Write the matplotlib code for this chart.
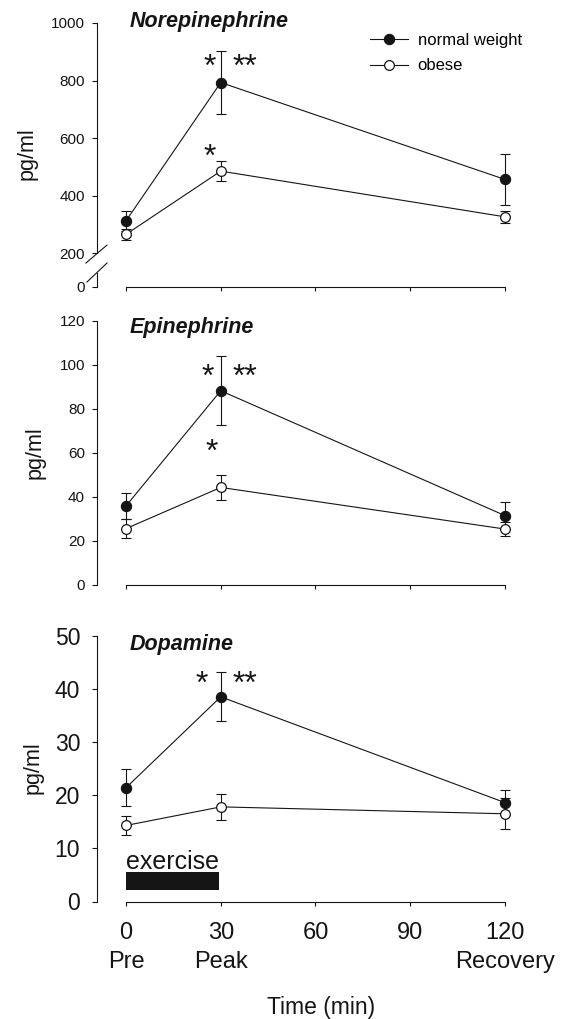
import numpy as np
import matplotlib
matplotlib.use('Agg')
import matplotlib.pyplot as plt
from matplotlib import transforms

plt.rcParams['font.family'] = ['Liberation Sans', 'DejaVu Sans']

# ---------------- data ----------------
time_min = [0, 30, 120]
xtick_values = [0, 30, 60, 90, 120]
xtick_labels = ['0\nPre', '30\nPeak', '60', '90', '120\nRecovery']

ne_normal = [312, 793, 456]
ne_normal_err = [34, 110, 90]
ne_obese = [265, 485, 326]
ne_obese_err = [20, 35, 22]

epi_normal = [35.9, 88.2, 31.5]
epi_normal_err = [6.0, 15.6, 6.0]
epi_obese = [25.6, 44.3, 25.4]
epi_obese_err = [4.4, 5.8, 3.0]

dop_normal = [21.4, 38.5, 18.6]
dop_normal_err = [3.5, 4.6, 2.3]
dop_obese = [14.3, 17.8, 16.5]
dop_obese_err = [1.8, 2.5, 2.9]

ne_yticks = [0, 200, 400, 600, 800, 1000]
epi_yticks = [0, 20, 40, 60, 80, 100, 120]
dop_yticks = [0, 10, 20, 30, 40, 50]

# significance marks (x in min, y in pg/ml, text)
ne_marks = [(26.6, 864, '*'), (37.7, 864, '**'), (26.6, 551, '*')]
epi_marks = [(26.0, 96.8, '*'), (37.7, 96.8, '**'), (27.1, 62.8, '*')]
dop_marks = [(24.0, 41.8, '*'), (37.7, 41.8, '**')]

exercise_start, exercise_end = 0, 29.5
exercise_bar_y = (2.2, 5.5)

series_labels = ['normal weight', 'obese']

# ---------------- figure ----------------
W, H = 565, 1019
fig = plt.figure(figsize=(W / 100, H / 100), dpi=100)
INK = '#151515'


def px_axes(left, top, right, bottom):
    return fig.add_axes([left / W, 1 - bottom / H, (right - left) / W, (bottom - top) / H])


XLIM = (-9.18, 120.95)
TITLE_FS = 15.5
STAR_FS = 23


def style_axes(ax, yticks, ytick_size, ypad):
    ax.set_xlim(*XLIM)
    for s in ('top', 'right'):
        ax.spines[s].set_visible(False)
    for s in ('left', 'bottom'):
        ax.spines[s].set_linewidth(0.8)
        ax.spines[s].set_color(INK)
    ax.spines['bottom'].set_bounds(0, 120)
    ax.set_xticks(xtick_values)
    ax.set_yticks(yticks)
    ax.tick_params(axis='y', direction='out', length=3.6, width=0.8, colors=INK,
                   labelsize=ytick_size, pad=ypad)
    ax.tick_params(axis='x', direction='out', length=3, width=0.8, colors=INK)


def draw_series(ax, normal, nerr, obese, oerr):
    ax.errorbar(time_min, normal, yerr=nerr, fmt='none', ecolor=INK, elinewidth=0.8,
                capsize=3.3, capthick=0.8, zorder=2, clip_on=False)
    ax.errorbar(time_min, obese, yerr=oerr, fmt='none', ecolor=INK, elinewidth=0.8,
                capsize=3.3, capthick=0.8, zorder=2, clip_on=False)
    h1, = ax.plot(time_min, normal, '-o', color=INK, lw=0.8, ms=7.4, mfc=INK, mec=INK,
                  mew=0.8, zorder=3, clip_on=False, label=series_labels[0])
    h2, = ax.plot(time_min, obese, '-o', color=INK, lw=0.8, ms=7.0, mfc='white', mec=INK,
                  mew=0.9, zorder=4, clip_on=False, label=series_labels[1])
    return h1, h2


def draw_marks(ax, marks):
    # place the visual centre of the asterisk glyph on the given point
    tr = transforms.offset_copy(ax.transData, fig=fig, x=0,
                                y=-0.44 * STAR_FS * 100 / 72, units='dots')
    for x, y, t in marks:
        ax.text(x, y, t, ha='center', va='baseline', fontsize=STAR_FS,
                color=INK, clip_on=False, transform=tr)


def draw_title(ax, y, text):
    ax.text(1.3, y, text, fontsize=TITLE_FS, fontweight='bold', fontstyle='italic',
            ha='left', va='center', color=INK, clip_on=False)


# ---- top: norepinephrine (broken axis) ----
ax1 = px_axes(97, 23, 508, 287)


def fwd(y):
    y = np.asarray(y, dtype=float)
    return np.where(y >= 200, y, 82 + 0.59 * y)


def inv(u):
    u = np.asarray(u, dtype=float)
    return np.where(u >= 200, u, (u - 82) / 0.59)


ax1.set_yscale('function', functions=(fwd, inv))
ax1.set_ylim(0, 1000)
style_axes(ax1, ne_yticks, 11, 5)
ax1.spines['left'].set_bounds(200, 1000)
ax1.set_xticklabels([])
h1, h2 = draw_series(ax1, ne_normal, ne_normal_err, ne_obese, ne_obese_err)
draw_marks(ax1, ne_marks)
blend = transforms.blended_transform_factory(ax1.transAxes, ax1.transData)
ax1.plot([0, 0], [0, 82], color=INK, lw=0.8, transform=blend, clip_on=False)
ax1.plot([-0.0268, 0.0243], [141.4, 227.8], color=INK, lw=0.8, transform=blend, clip_on=False)
ax1.plot([-0.0243, 0.0243], [29.5, 141.4], color=INK, lw=0.8, transform=blend, clip_on=False)
draw_title(ax1, 1005, 'Norepinephrine')
ax1.set_ylabel('pg/ml', fontsize=15.5, color=INK)
ax1.yaxis.set_label_coords(-0.144, 0.504)
ax1.legend(handles=[h1, h2], loc='upper left', bbox_to_anchor=(370 / W, 1 - 33 / H),
           bbox_transform=fig.transFigure, frameon=False, borderpad=0, borderaxespad=0,
           handlelength=2.3, handletextpad=0.55, labelspacing=0.62, fontsize=12)

# ---- middle: epinephrine ----
ax2 = px_axes(97, 320.7, 508, 585)
ax2.set_ylim(0, 120)
style_axes(ax2, epi_yticks, 11, 5)
ax2.spines['left'].set_bounds(0, 120)
ax2.set_xticklabels([])
draw_series(ax2, epi_normal, epi_normal_err, epi_obese, epi_obese_err)
draw_marks(ax2, epi_marks)
draw_title(ax2, 116.7, 'Epinephrine')
ax2.set_ylabel('pg/ml', fontsize=15.5, color=INK)
ax2.yaxis.set_label_coords(-0.124, 0.5)

# ---- bottom: dopamine ----
ax3 = px_axes(97, 635.7, 508, 901.5)
ax3.set_ylim(0, 50)
style_axes(ax3, dop_yticks, 16.5, 8.5)
ax3.spines['left'].set_bounds(0, 50)
ax3.set_xticklabels(xtick_labels)
ax3.tick_params(axis='x', labelsize=17, pad=11.5)
for lab in ax3.get_xticklabels():
    lab.set_linespacing(1.45)
draw_series(ax3, dop_normal, dop_normal_err, dop_obese, dop_obese_err)
draw_marks(ax3, dop_marks)
ax3.barh(y=(exercise_bar_y[0] + exercise_bar_y[1]) / 2, width=exercise_end - exercise_start,
         height=exercise_bar_y[1] - exercise_bar_y[0], left=exercise_start, color=INK, zorder=2)
ax3.text((exercise_start + exercise_end) / 2, 7.5, 'exercise', fontsize=18, ha='center',
         va='center', color=INK)
draw_title(ax3, 48.3, 'Dopamine')
ax3.set_ylabel('pg/ml', fontsize=15.5, color=INK)
ax3.yaxis.set_label_coords(-0.129, 0.502)
ax3.set_xlabel('Time (min)', fontsize=16.5, color=INK)
ax3.xaxis.set_label_coords(0.546, -0.357)

fig.savefig('out.png', dpi=100)
